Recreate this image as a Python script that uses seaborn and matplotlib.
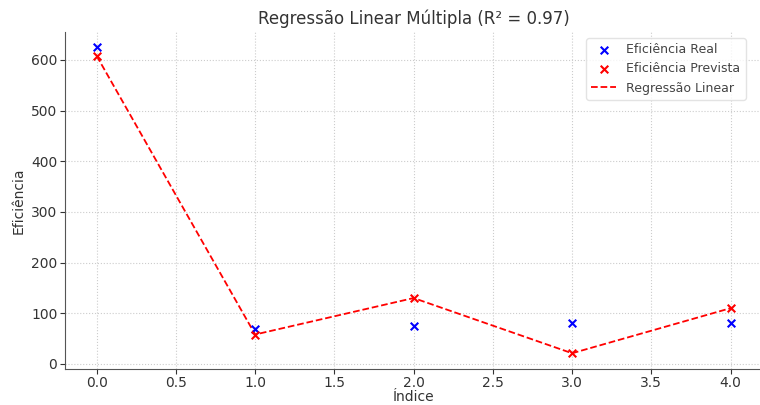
import matplotlib
matplotlib.use("Agg")
import matplotlib.pyplot as plt
import seaborn as sns
import pandas as pd

indice = [0, 1, 2, 3, 4]
eficiencia_real = [625, 68, 75, 81, 80]
eficiencia_prevista = [608, 58, 130, 21, 110]

sns.set_style("ticks")
plt.rcParams['font.family'] = ['DejaVu Sans']

df = pd.DataFrame({'Índice': indice, 'Real': eficiencia_real, 'Prevista': eficiencia_prevista})

fig = plt.figure(figsize=(7.6, 4.05), dpi=100)
ax = fig.add_axes([0.0855, 0.09, 0.9175, 0.831])

sns.scatterplot(data=df, x='Índice', y='Real', marker='x', color='blue', s=30, linewidth=1.5,
                label='Eficiência Real', ax=ax, zorder=3)
sns.scatterplot(data=df, x='Índice', y='Prevista', marker='x', color='red', s=30, linewidth=1.5,
                label='Eficiência Prevista', ax=ax, zorder=3)
sns.lineplot(data=df, x='Índice', y='Prevista', color='red', linestyle='--', linewidth=1.3,
             label='Regressão Linear', ax=ax)

ax.set_title('Regressão Linear Múltipla (R² = 0.97)', fontsize=12, color='#333333')
ax.set_xlabel('Índice', fontsize=10, color='#333333', labelpad=0)
ax.set_ylabel('Eficiência', fontsize=10, color='#333333')
ax.set_xticks([0, 0.5, 1, 1.5, 2, 2.5, 3, 3.5, 4])
ax.tick_params(colors='#333333', labelsize=10, pad=2)
ax.grid(True, linestyle=':', color='#cccccc', linewidth=0.8)
ax.margins(x=0.05, y=0.05)
sns.despine(ax=ax)
for s in ['left', 'bottom']:
    ax.spines[s].set_color('#555555')

ax.legend(loc='upper right', fontsize=9, frameon=True, edgecolor='#dddddd',
          bbox_to_anchor=(0.985, 1.0))
for t in ax.get_legend().get_texts():
    t.set_color('#444444')

fig.savefig('out.png', dpi=100)
